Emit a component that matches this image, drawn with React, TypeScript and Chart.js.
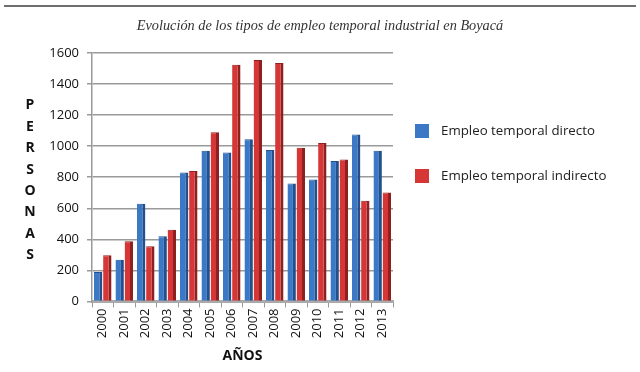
import React, { useEffect, useRef } from "react";
import { Chart, registerables } from "chart.js";

Chart.register(...registerables);

const years = ["2000","2001","2002","2003","2004","2005","2006","2007","2008","2009","2010","2011","2012","2013"];
const directo = [190, 268, 630, 420, 830, 970, 960, 1045, 975, 760, 785, 905, 1075, 970];
const indirecto = [298, 388, 355, 462, 840, 1090, 1525, 1555, 1535, 990, 1020, 915, 648, 702];
const yTicks = { min: 0, max: 1600, step: 200 };
const chartTitle = "Evolución de los tipos de empleo temporal industrial en Boyacá";
const yTitle = "PERSONAS";
const xTitle = "AÑOS";
const seriesNames = ["Empleo temporal directo", "Empleo temporal indirecto"];
const seriesColors = ["#3b79c6", "#d63636"];
const seriesDark = ["#23508a", "#8f2020"];

const decorPlugin = {
  id: "decor",
  beforeDraw(chart: any) {
    const ctx = chart.ctx;
    ctx.save();
    ctx.strokeStyle = "#6e6e6e";
    ctx.lineWidth = 2;
    ctx.beginPath();
    ctx.moveTo(4, 6);
    ctx.lineTo(636, 6);
    ctx.stroke();
    ctx.fillStyle = "#333";
    ctx.font = "italic 14.3px 'Liberation Serif'";
    ctx.textAlign = "center";
    ctx.textBaseline = "middle";
    ctx.fillText(chartTitle, 320, 26);
    ctx.restore();
  },
  afterDraw(chart: any) {
    const ctx = chart.ctx;
    const area = chart.chartArea;
    ctx.save();
    ctx.fillStyle = "#111";
    ctx.font = "bold 14px 'Open Sans'";
    ctx.textAlign = "center";
    ctx.textBaseline = "middle";
    const letters = yTitle.split("");
    const spacing = 21.4;
    const midY = (area.top + area.bottom) / 2 + 3;
    const startY = midY - ((letters.length - 1) * spacing) / 2;
    letters.forEach((l, i) => ctx.fillText(l, 30, startY + i * spacing));
    ctx.font = "13.3px 'Open Sans'";
    ctx.textAlign = "left";
    chart.data.datasets.forEach((ds: any, i: number) => {
      const y = 131 + i * 45;
      const x = area.right + 22;
      ctx.fillStyle = seriesColors[i];
      ctx.fillRect(x, y - 7, 14, 14);
      ctx.fillStyle = "#222";
      ctx.fillText(ds.label, x + 26, y);
    });
    ctx.restore();
  },
};

export default function App() {
  const ref = useRef<HTMLCanvasElement | null>(null);
  useEffect(() => {
    if (!ref.current) return;
    const mk = (i: number, data: number[]) => ({
      label: seriesNames[i],
      data,
      backgroundColor: seriesColors[i],
      borderColor: seriesDark[i],
      borderWidth: { left: 0, right: 3, top: 1, bottom: 0 },
      borderSkipped: false as any,
      categoryPercentage: 0.85,
      barPercentage: 0.92,
    });
    const chart = new Chart(ref.current, {
      type: "bar",
      data: {
        labels: years,
        datasets: [mk(0, directo), mk(1, indirecto)],
      },
      options: {
        animation: false,
        responsive: false,
        maintainAspectRatio: false,
        layout: { padding: { top: 53, left: 32, right: 247, bottom: 8 } },
        plugins: {
          legend: { display: false },
          title: { display: false },
          tooltip: { enabled: false },
        },
        scales: {
          x: {
            grid: {
              display: true,
              drawOnChartArea: false,
              drawTicks: true,
              tickLength: 6,
              color: "#999",
              offset: true,
            },
            border: { display: true, color: "#aaa", width: 3 },
            ticks: {
              color: "#111",
              font: { family: "'Open Sans'", size: 13 },
              minRotation: 90,
              maxRotation: 90,
              padding: 1,
            },
            title: {
              display: true,
              text: xTitle,
              color: "#111",
              font: { family: "'Open Sans'", size: 14, weight: "bold" },
              padding: { top: 8, bottom: 0 },
            },
          },
          y: {
            min: yTicks.min,
            max: yTicks.max,
            afterFit: (axis: any) => {
              axis.width = 60;
            },
            grid: {
              color: "#9a9a9a",
              lineWidth: 1.5,
              tickLength: 5,
            },
            border: { display: true, color: "#9a9a9a", width: 1.5 },
            ticks: {
              stepSize: yTicks.step,
              color: "#111",
              font: { family: "'Open Sans'", size: 13 },
              padding: 8,
              callback: (v: any) => String(v),
            },
          },
        },
      },
      plugins: [decorPlugin],
    });
    return () => chart.destroy();
  }, []);
  return (
    <div style={{ position: "fixed", left: 0, top: 0, width: 640, height: 372, background: "#fff" }}>
      <canvas ref={ref} width={640} height={372} style={{ width: 640, height: 372, display: "block" }} />
    </div>
  );
}
